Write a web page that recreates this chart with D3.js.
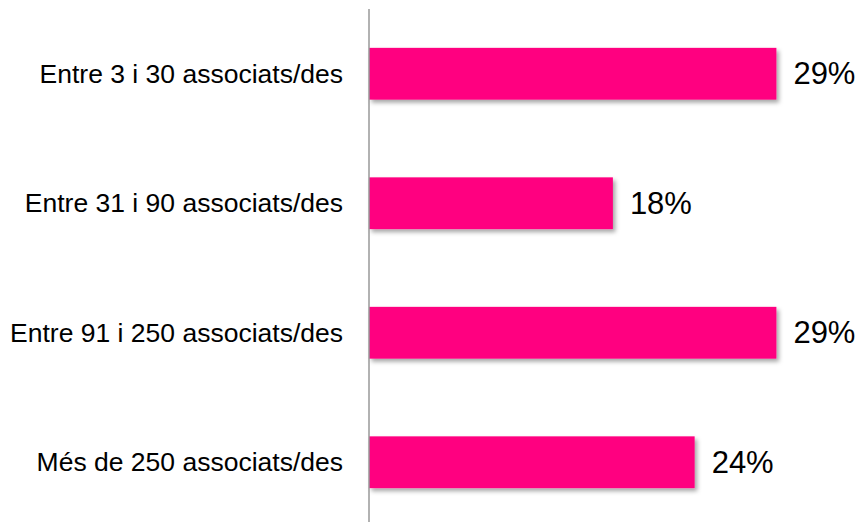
<!DOCTYPE html>
<html>
<head>
<meta charset="utf-8">
<script src="https://cdn.jsdelivr.net/npm/d3@7"></script>
<style>
  html, body { margin: 0; padding: 0; background: #fff; }
  svg { display: block; }
  text { font-family: Arial, "Liberation Sans", sans-serif; fill: #000; }
</style>
</head>
<body>
<svg id="chart" width="858" height="525"></svg>
<script>
const categories = [
  "Entre 3 i 30 associats/des",
  "Entre 31 i 90 associats/des",
  "Entre 91 i 250 associats/des",
  "Més de 250 associats/des"
];
const values = [29.4, 17.6, 29.4, 23.5];
const valueLabels = ["29%", "18%", "29%", "24%"];

const svg = d3.select("#chart");
const axisX = 369;

const defs = svg.append("defs");
const f = defs.append("filter").attr("id", "shadow")
  .attr("x", "-5%").attr("y", "-20%").attr("width", "115%").attr("height", "160%");
f.append("feDropShadow")
  .attr("dx", 2.5).attr("dy", 3).attr("stdDeviation", 2)
  .attr("flood-color", "#000").attr("flood-opacity", 0.35);

const y = d3.scaleBand()
  .domain(categories)
  .range([9, 527])
  .paddingInner(0.6)
  .paddingOuter(0.3);

const x = d3.scaleLinear()
  .domain([0, 35])
  .range([axisX, 854]);

const data = categories.map((c, i) => ({ c, v: values[i], l: valueLabels[i] }));

svg.append("g").selectAll("rect")
  .data(data)
  .join("rect")
  .attr("x", x(0))
  .attr("y", d => y(d.c))
  .attr("width", d => x(d.v) - x(0))
  .attr("height", y.bandwidth())
  .attr("fill", "#ff0080")
  .attr("filter", "url(#shadow)");

// vertical axis line
svg.append("line")
  .attr("x1", axisX).attr("x2", axisX)
  .attr("y1", 9).attr("y2", 522)
  .attr("stroke", "#999").attr("stroke-width", 1.5);

// category labels
svg.append("g").selectAll("text")
  .data(data)
  .join("text")
  .attr("x", axisX - 26)
  .attr("y", d => y(d.c) + y.bandwidth() / 2)
  .attr("text-anchor", "end")
  .attr("dominant-baseline", "central")
  .style("font-size", "26.5px")
  .text(d => d.c);

// value labels
svg.append("g").selectAll("text")
  .data(data)
  .join("text")
  .attr("x", d => x(d.v) + 17)
  .attr("y", d => y(d.c) + y.bandwidth() / 2)
  .attr("dominant-baseline", "central")
  .style("font-size", "31px")
  .text(d => d.l);
</script>
</body>
</html>
